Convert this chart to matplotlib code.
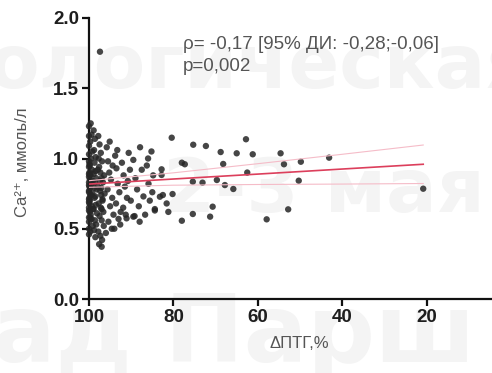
import matplotlib
matplotlib.use("Agg")
import matplotlib.pyplot as plt

# ---- data ----
dense_x = [100, 100, 100, 100, 100, 100, 100, 100, 100, 100, 100, 100, 100, 100, 100, 100, 100, 100, 100, 100,
           99.6, 99.4, 99.7, 99.2, 99.5, 99.8, 99.3, 99.6, 99.1, 99.4, 99.7, 99.2, 99.5, 99.8, 99.3, 99.0, 99.6, 99.4, 99.1, 99.7,
           98.9, 98.6, 98.8, 98.4, 98.7, 98.5, 98.9, 98.3, 98.6, 98.8, 98.2, 98.5, 98.7, 98.4, 98.9, 98.1, 98.6, 98.3, 98.8, 98.5,
           99.9, 99.8, 99.9, 99.7, 99.9, 99.8, 99.9, 99.7, 99.9, 99.8]
dense_y = [1.23, 1.16, 1.09, 1.03, 0.98, 0.94, 0.89, 0.87, 0.83, 0.81, 0.77, 0.76, 0.71, 0.69, 0.65, 0.63, 0.58, 0.55, 0.50, 0.46,
           1.25, 1.17, 1.12, 1.05, 1.00, 0.95, 0.92, 0.88, 0.84, 0.82, 0.79, 0.75, 0.74, 0.70, 0.66, 0.64, 0.60, 0.57, 0.52, 0.48,
           1.20, 1.14, 1.06, 1.01, 0.97, 0.91, 0.89, 0.86, 0.83, 0.79, 0.78, 0.73, 0.72, 0.67, 0.64, 0.61, 0.56, 0.53, 0.49, 0.44,
           0.90, 0.85, 0.80, 0.74, 0.68, 0.62, 0.96, 0.58, 0.72, 0.88]

mid_x = [97.8, 97.5, 97.2, 96.9, 97.6, 97.3, 97.0, 96.7, 97.9, 97.4, 97.1, 96.8, 97.7, 97.2, 96.6, 97.5, 97.0, 96.5, 97.8, 97.3,
         96.9, 97.6, 96.4, 97.1, 97.9, 96.8, 97.4, 96.3, 97.7, 97.0,
         95.8, 95.5, 95.2, 94.8, 95.6, 94.5, 95.0, 94.2, 95.4, 93.8, 93.5, 93.2, 92.8, 93.6, 92.5, 93.0, 92.2, 91.8, 91.5, 91.0,
         91.9, 90.6, 90.3, 90.8, 90.1, 94.0, 92.6, 96.0, 95.1, 93.3, 94.4, 91.3, 91.1, 89.5, 94.6, 97.0,
         89.5, 89.0, 88.6, 88.2, 87.9, 87.5, 87.1, 86.7, 86.3, 85.9, 85.6, 85.2, 84.8, 84.4, 89.2, 88.0, 86.0, 85.0, 83.2, 84.4]
mid_y = [1.16, 1.10, 1.04, 0.98, 0.94, 0.90, 0.86, 0.83, 0.80, 0.77, 0.74, 0.71, 0.68, 0.65, 0.62, 0.59, 0.56, 0.52, 0.48, 0.45,
         0.42, 0.39, 0.88, 0.79, 0.92, 0.70, 0.84, 0.75, 1.00, 0.64,
         1.08, 0.98, 0.90, 0.85, 0.78, 0.72, 0.66, 0.60, 0.55, 1.02, 0.93, 0.82, 0.76, 0.68, 0.62, 0.57, 0.97, 0.88, 0.80, 0.72,
         0.65, 1.04, 0.92, 0.84, 0.70, 0.50, 0.53, 0.47, 1.12, 1.06, 0.95, 0.60, 0.574, 0.586, 0.50, 0.372,
         0.99, 0.86, 0.78, 0.66, 1.08, 0.92, 0.73, 0.60, 0.95, 0.82, 0.70, 1.05, 0.88, 0.64, 0.59, 0.55, 1.00, 0.76, 0.728, 0.63]

sparse_x = [82.8, 82.5, 82.8, 81.6, 81.2, 80.4, 80.2, 78.0, 77.3, 78.0, 75.3, 75.4, 75.4, 73.1, 72.3, 71.3, 70.7, 69.7,
            68.8, 68.2, 67.8, 65.8, 65.0, 62.8, 62.5, 61.2, 57.9, 54.6, 53.8, 52.8, 50.3, 49.8, 43.1, 20.8, 97.4]
sparse_y = [0.923, 0.74, 0.883, 0.68, 0.62, 1.148, 0.747, 0.97, 0.959, 0.557, 1.098, 0.835, 0.605, 0.828, 1.089, 0.586,
            0.657, 0.847, 1.046, 0.961, 0.811, 0.783, 1.037, 1.137, 0.90, 1.03, 0.567, 1.037, 0.959, 0.638, 0.842, 0.977,
            1.006, 0.785, 1.76]

fit_x = [100, 80, 60, 40, 20.8]
fit_y = [0.818, 0.854, 0.889, 0.925, 0.959]
band_lo = [0.795, 0.810, 0.815, 0.818, 0.822]
band_hi = [0.842, 0.898, 0.963, 1.030, 1.096]

x_ticks = [100, 80, 60, 40, 20]
y_ticks = [0.0, 0.5, 1.0, 1.5, 2.0]

W, H = 492, 373
fig = plt.figure(figsize=(W / 100, H / 100), dpi=100)
fig.patch.set_facecolor("white")

# faint background watermark
wm = dict(color="#f4f4f4", fontweight="bold", family="DejaVu Sans", zorder=-5)
fig.text(-12 / W, 1 - 88 / H, "ологическая", fontsize=54, ha="left", va="baseline", **wm)
fig.text(485 / W, 1 - 212 / H, "2-3 мая", fontsize=54, ha="right", va="baseline", **wm)
fig.text(-8 / W, 1 - 362 / H, "ад Парш", fontsize=68, ha="left", va="baseline", **wm)

ax = fig.add_axes([89 / W, 74 / H, (W - 89) / W, (299 - 18) / H])
ax.patch.set_alpha(0)

all_x = dense_x + mid_x + sparse_x
all_y = dense_y + mid_y + sparse_y
ax.scatter(all_x, all_y, s=21, color="#262626", alpha=0.85, edgecolors="none", zorder=3, clip_on=False)

ax.plot(fit_x, band_hi, color="#f5bcc8", lw=0.8, zorder=4)
ax.plot(fit_x, band_lo, color="#f5bcc8", lw=0.8, zorder=4)
ax.plot(fit_x, fit_y, color="#dc3f5c", lw=1.2, zorder=5)

ax.set_xlim(100, 100 - (W - 89) / 4.22)
ax.set_ylim(0, 2.0)
ax.set_xticks(x_ticks)
ax.set_yticks(y_ticks)
ax.set_xticklabels([str(t) for t in x_ticks])
ax.set_yticklabels([f"{t:.1f}" for t in y_ticks])

for s in ["top", "right"]:
    ax.spines[s].set_visible(False)
for s in ["left", "bottom"]:
    ax.spines[s].set_linewidth(1.6)
    ax.spines[s].set_color("#111111")
ax.tick_params(axis="both", direction="out", length=5, width=1.6, color="#111111",
               labelsize=13.5, pad=2)
for lab in ax.get_xticklabels() + ax.get_yticklabels():
    lab.set_fontweight("bold")
    lab.set_family("Liberation Sans")
    lab.set_color("#1e1e1e")

ax.set_xlabel("ΔПТГ,%", fontsize=12, color="#555555", family=["Liberation Sans", "DejaVu Sans"])
ax.xaxis.set_label_coords((299 - 89) / (W - 89), (299 - 336) / (299 - 18))
ax.set_ylabel("Ca²⁺, ммоль/л", fontsize=12, color="#555555", family=["Liberation Sans", "DejaVu Sans"])
ax.yaxis.set_label_coords((30 - 89) / (W - 89), (299 - 162) / (299 - 18))

fig.text(183 / W, 1 - 49 / H, "ρ= -0,17 [95% ДИ: -0,28;-0,06]", fontsize=13.5, color="#555555",
         family=["Liberation Sans", "DejaVu Sans"], va="baseline")
fig.text(183 / W, 1 - 71 / H, "p=0,002", fontsize=13.5, color="#555555",
         family=["Liberation Sans", "DejaVu Sans"], va="baseline")

fig.savefig("out.png", dpi=100)
